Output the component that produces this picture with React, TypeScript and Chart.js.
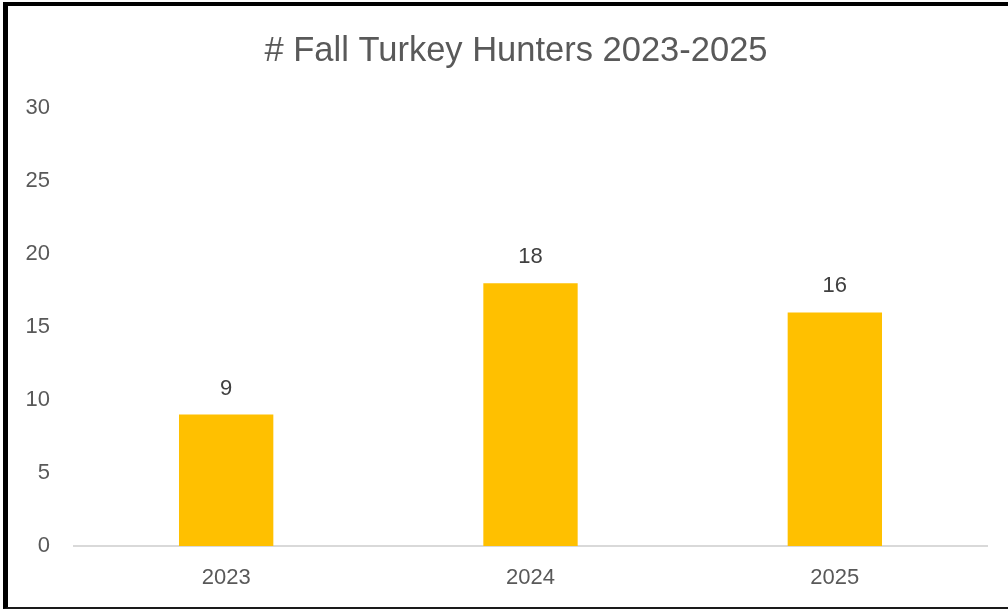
import React, { useEffect, useRef } from "react";
import { Chart, registerables } from "chart.js";

Chart.register(...registerables);

const title = "# Fall Turkey Hunters 2023-2025";
const categories = ["2023", "2024", "2025"];
const hunters = [9, 18, 16];
const yTicks = [0, 5, 10, 15, 20, 25, 30];

const CANVAS_W = 1032;
const CANVAS_H = 610;

const dataLabels = {
  id: "dataLabels",
  afterDatasetsDraw(chart: any) {
    const ctx = chart.ctx;
    const meta = chart.getDatasetMeta(0);
    const values = chart.data.datasets[0].data;
    ctx.save();
    ctx.font = "22px 'Liberation Sans', Arial, sans-serif";
    ctx.fillStyle = "#404040";
    ctx.textAlign = "center";
    ctx.textBaseline = "middle";
    meta.data.forEach((el: any, i: number) => {
      ctx.fillText(String(values[i]), el.x, el.y - 26);
    });
    ctx.restore();
  },
};

export default function App() {
  const ref = useRef<HTMLCanvasElement | null>(null);

  useEffect(() => {
    if (!ref.current) return;
    const chart = new Chart(ref.current, {
      type: "bar",
      data: {
        labels: categories,
        datasets: [
          {
            data: hunters,
            backgroundColor: "#FFC000",
            borderWidth: 0,
            categoryPercentage: 1,
            barPercentage: 0.31,
          },
        ],
      },
      options: {
        responsive: false,
        animation: false,
        layout: { padding: 0 },
        plugins: {
          legend: { display: false },
          tooltip: { enabled: false },
          title: {
            display: true,
            text: title,
            color: "#595959",
            font: { family: "'Liberation Sans', Arial, sans-serif", size: 34.5, weight: "normal", lineHeight: 1.2 },
            padding: { top: 30.5, bottom: 36.1 },
          },
        },
        scales: {
          x: {
            grid: { display: false, drawTicks: false },
            border: { display: true, color: "#d9d9d9", width: 2 },
            ticks: {
              color: "#595959",
              padding: 19,
              font: { family: "'Liberation Sans', Arial, sans-serif", size: 22 },
            },
            afterFit: (s: any) => {
              s.height = 64;
            },
          },
          y: {
            min: 0,
            max: 30,
            afterBuildTicks: (s: any) => {
              s.ticks = yTicks.map((v) => ({ value: v }));
            },
            grid: { display: false, drawTicks: false },
            border: { display: false },
            ticks: {
              color: "#595959",
              padding: 24,
              font: { family: "'Liberation Sans', Arial, sans-serif", size: 22 },
            },
            afterFit: (s: any) => {
              s.width = 74;
            },
          },
          yRight: {
            position: "right",
            min: 0,
            max: 30,
            grid: { display: false, drawTicks: false },
            border: { display: false },
            ticks: { display: false },
            afterFit: (s: any) => {
              s.width = CANVAS_W - 987;
            },
          },
        },
      },
      plugins: [dataLabels],
    });
    return () => chart.destroy();
  }, []);

  return (
    <div
      style={{
        position: "absolute",
        left: 0,
        top: 0,
        width: 1008,
        height: 610,
        overflow: "hidden",
        background: "#ffffff",
      }}
    >
      <canvas
        ref={ref}
        width={CANVAS_W}
        height={CANVAS_H}
        style={{ position: "absolute", left: 0, top: 0, display: "block" }}
      />
      <div
        style={{
          position: "absolute",
          left: 3,
          top: 2,
          width: 1040,
          height: 601,
          borderLeft: "5px solid #000",
          borderTop: "4px solid #000",
          borderBottom: "2px solid #1a1a1a",
          pointerEvents: "none",
        }}
      />
    </div>
  );
}
